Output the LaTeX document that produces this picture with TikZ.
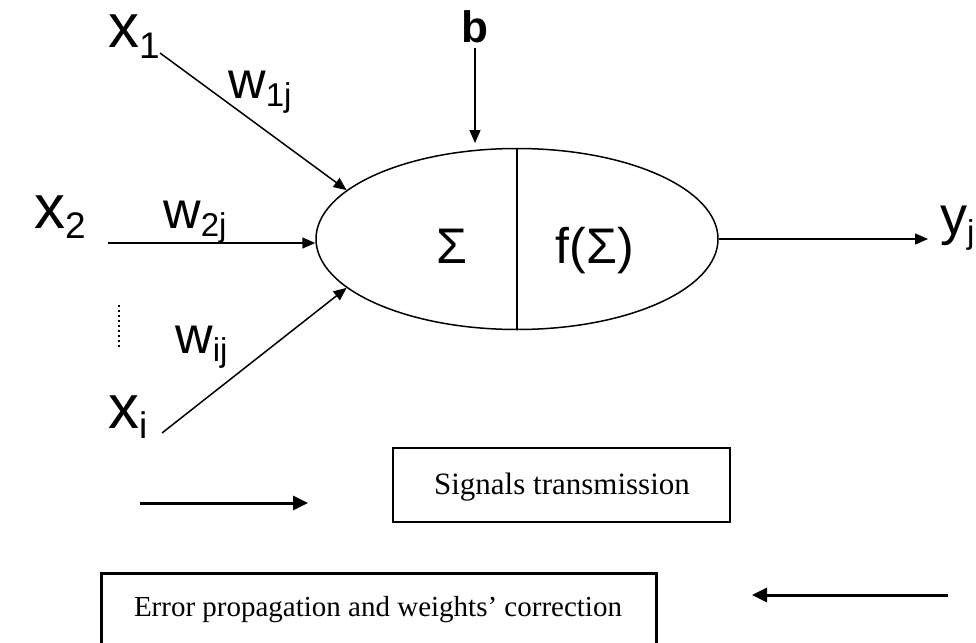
\documentclass[tikz,border=0pt]{standalone}
\usepackage{fontspec}
\setmainfont{Liberation Serif}
\newfontfamily\arialf{Liberation Sans}
\usetikzlibrary{shapes.geometric,arrows.meta}
\newcommand\vlab[4]{{\arialf\fontsize{#3}{#3}\selectfont #1\raisebox{-0.17em}{\fontsize{#4}{#4}\selectfont #2}}}
\tikzset{
  lbl/.style={inner sep=0pt, anchor=base west},
  thin arrow/.style={line width=1.5pt, -{Triangle[length=13pt,width=11pt]}},
  thick arrow/.style={line width=3pt, -{Triangle[length=15pt,width=14pt]}},
  textbox/.style={draw, line width=2.8pt},
  boxtext/.style={inner sep=0pt, anchor=base, font=\fontsize{31}{31}\selectfont}
}
\begin{document}
\begin{tikzpicture}[x=1pt,y=-1pt]
\useasboundingbox (0,0) rectangle (976,642);
\clip (0,0) rectangle (976,642);
% neuron
\node[draw, ellipse, line width=1.5pt, minimum width=402pt, minimum height=181pt, inner sep=0pt] (neuron) at (517,239) {};
\draw[line width=1.5pt] (neuron.north) -- (neuron.south);
\node[inner sep=0pt, anchor=base, font=\arialf\fontsize{50}{50}\selectfont] (sum) at (452,263) {Σ};
\node[inner sep=0pt, anchor=base, font=\arialf\fontsize{50}{50}\selectfont] (act) at (595,263) {f(Σ)};
% labels
\node[lbl] (x1) at (108,48) {\vlab{x}{1}{62}{37}};
\node[lbl] (w1) at (228,98) {\vlab{w}{1j}{52}{33}};
\node[lbl] (x2) at (34,228) {\vlab{x}{2}{62}{37}};
\node[lbl] (w2) at (163,228) {\vlab{w}{2j}{52}{33}};
\node[lbl] (wi) at (175,353) {\vlab{w}{ij}{52}{33}};
\node[lbl] (xi) at (108,428) {\vlab{x}{i}{62}{37}};
\node[lbl] (yj) at (940,234) {\vlab{y}{j}{54}{33}};
\node[inner sep=0pt, anchor=base, font=\arialf\bfseries\fontsize{44}{44}\selectfont] (b) at (475,43) {b};
% free ends
\coordinate (x1s) at (160,53);
\coordinate (x2s) at (108,243);
\coordinate (xis) at (162,433);
\coordinate (bs) at (475,48);
\coordinate (bend) at (475,143);
\coordinate (yend) at (928,241);
% connectors
\draw[thin arrow] (x1s) -- (neuron.164);
\draw[thin arrow] (x2s) -- (x2s -| neuron.west);
\draw[thin arrow] (xis) -- (neuron.196);
\draw[thin arrow] (bs) -- (bend);
\draw[thin arrow] (neuron.east) -- (neuron.east -| yend);
\draw[line width=2pt, dash pattern=on 2pt off 3pt] (119,305) -- (119,348);
% legend
\node[textbox, minimum width=337pt, minimum height=74pt] (sigbox) at (561.5,485) {};
\node[boxtext] (sigtxt) at (562,494) {Signals transmission};
\coordinate (sa) at (140,503);
\coordinate (sb) at (308,503);
\draw[thick arrow] (sa) -- (sb);
\node[textbox, minimum width=555pt, minimum height=100pt, anchor=north west] (errbox) at (100,572) {};
\node[boxtext, font=\fontsize{29}{29}\selectfont] (errtxt) at (378,616) {Error propagation and weights’ correction};
\coordinate (ea) at (948,595);
\coordinate (eb) at (752,595);
\draw[thick arrow] (ea) -- (eb);
\end{tikzpicture}
\end{document}
